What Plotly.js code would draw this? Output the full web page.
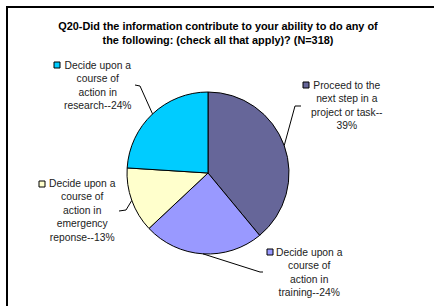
<!DOCTYPE html>
<html>
<head>
<meta charset="utf-8">
<script src="https://cdn.plot.ly/plotly-3.0.1.min.js"></script>
<style>html,body{margin:0;padding:0;background:#fff;}#chart{width:434px;height:306px;}</style>
</head>
<body>
<div id="chart"></div>
<script>
// ---- data ----
const categories = [
  "Proceed to the next step in a project or task",
  "Decide upon a course of action in training",
  "Decide upon a course of action in emergency reponse",
  "Decide upon a course of action in research"
];
const values = [39, 24, 13, 24];
const labelLines = [
  ["Proceed to the", "next step in a", "project or task--", "39%"],
  ["Decide upon a", "course of", "action in", "training--24%"],
  ["Decide upon a", "course of", "action in", "emergency", "reponse--13%"],
  ["Decide upon a", "course of", "action in", "research--24%"]
];
const colors = ["#666699", "#9999FF", "#FFFFCC", "#00CCFF"];
const titleText = "Q20-Did the information contribute to your ability to do any of<br>the following: (check all that apply)? (N=318)";

// ---- layout geometry (pixels) ----
const W = 434, H = 306;
const cx = 208, cy = 173, R = 81;
const px = x => x / W;
const py = y => 1 - y / H;
const labelPos = [ {x:347, y:105}, {x:309, y:272}, {x:82, y:210.5}, {x:98, y:85.5} ];
const keyPos   = [ {x:303, y:82}, {x:267, y:249}, {x:39, y:181}, {x:54, y:62} ];
const elbows   = [ [[295,106],[301,106]], [[260,272],[263,272]], [[126,210],[119,211]], [[140,86],[135,85]] ];

const font = "Liberation Sans, Arial, sans-serif";
const total = values.reduce((a,b)=>a+b,0);

const shapes = [];
const annotations = [];
let cum = 0;
values.forEach((v, i) => {
  const mid = (cum + v/2) / total * 2 * Math.PI;
  cum += v;
  const sx = cx + R * Math.sin(mid), sy = cy - R * Math.cos(mid);
  const pts = [[sx, sy]].concat(elbows[i]);
  const path = pts.map((p, k) => (k ? "L" : "M") + px(p[0]) + "," + py(p[1])).join(" ");
  shapes.push({type:"path", xref:"paper", yref:"paper", path:path, line:{color:"#000", width:1}});
  const k = keyPos[i];
  shapes.push({type:"rect", xref:"paper", yref:"paper",
    x0:px(k.x), x1:px(k.x+6), y0:py(k.y), y1:py(k.y+6),
    fillcolor:colors[i], line:{color:"#000", width:1}});
  annotations.push({xref:"paper", yref:"paper", x:px(labelPos[i].x), y:py(labelPos[i].y),
    xanchor:"center", yanchor:"middle", align:"center", showarrow:false,
    text:labelLines[i].join("<br>"), font:{family:font, size:10.3, color:"#222"}});
});

// outer frame
shapes.push({type:"rect", xref:"paper", yref:"paper", x0:px(7), y0:py(7), x1:px(W+10), y1:py(H+10),
  line:{color:"#000", width:2}, fillcolor:"rgba(0,0,0,0)"});

const trace = {
  type:"pie", labels:categories, values:values, sort:false, direction:"clockwise", rotation:0,
  marker:{colors:colors, line:{color:"#000", width:1}},
  textinfo:"none", hoverinfo:"label+percent", showlegend:false,
  domain:{x:[px(cx-R), px(cx+R)], y:[py(cy+R), py(cy-R)]}
};

const layout = {
  width:W, height:H, margin:{l:0, r:0, t:0, b:0},
  paper_bgcolor:"#fff", plot_bgcolor:"#fff",
  title:{text:"<b>"+titleText+"</b>", x:px(218), xanchor:"center", xref:"paper",
         y:py(30), yref:"container", yanchor:"middle",
         font:{family:font, size:10.9, color:"#000"}},
  shapes:shapes, annotations:annotations, showlegend:false
};

Plotly.newPlot("chart", [trace], layout, {staticPlot:true, displayModeBar:false});
</script>
</body>
</html>
